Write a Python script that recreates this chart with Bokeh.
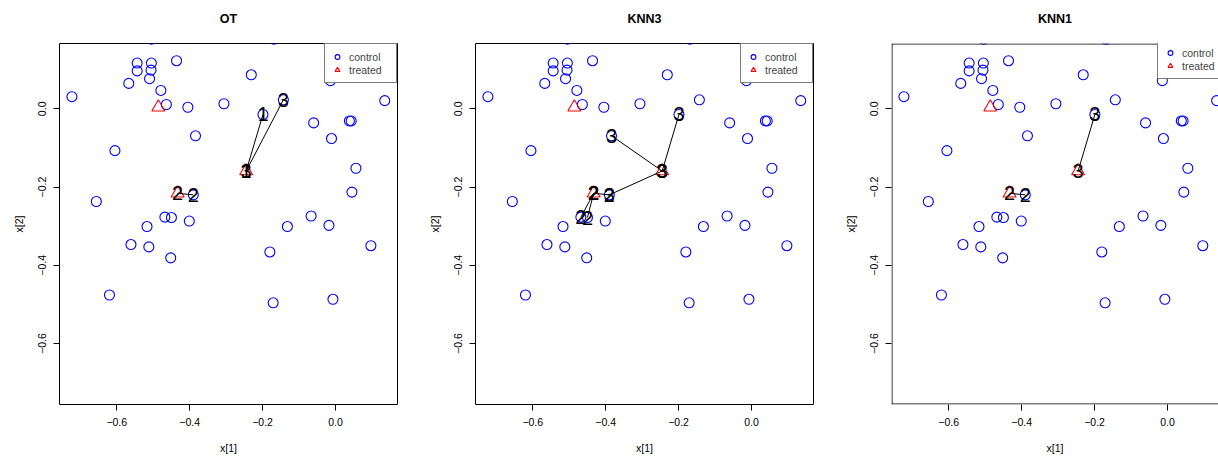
from bokeh.plotting import figure
from bokeh.layouts import row
from bokeh.models import Range1d, FixedTicker, Span, Legend, LegendItem, LinearAxis
from bokeh.embed import file_html
from bokeh.resources import INLINE
from bokeh.core.properties import value

# ---------------- data ----------------
control_x = [-0.505, -0.169, -0.544, -0.505, -0.544, -0.506, -0.436, -0.567, -0.510, -0.479,
             -0.723, -0.464, -0.405, -0.306, -0.231, -0.199, -0.143, -0.014, 0.135, -0.060,
             0.038, 0.043, -0.011, -0.384, -0.605, 0.056, 0.045, -0.656, -0.390, -0.468,
             -0.450, -0.401, -0.517, -0.132, -0.067, -0.018, -0.561, -0.512, -0.452, -0.180,
             0.097, -0.620, -0.171, -0.007]
control_y = [0.178, 0.178, 0.117, 0.117, 0.097, 0.099, 0.123, 0.065, 0.077, 0.047,
             0.031, 0.011, 0.004, 0.013, 0.087, -0.0145, 0.023, 0.072, 0.021, -0.036,
             -0.031, -0.031, -0.076, -0.069, -0.107, -0.152, -0.213, -0.237, -0.220, -0.277,
             -0.278, -0.287, -0.301, -0.301, -0.274, -0.298, -0.347, -0.353, -0.381, -0.366,
             -0.350, -0.476, -0.496, -0.487]
treated_x = [-0.486, -0.433, -0.245]
treated_y = [0.004, -0.216, -0.159]

# matches: treated index (1-based), control index (1-based), label
ot_treated = [3, 2, 3]
ot_control = [16, 29, 17]
ot_labels = ["1", "2", "3"]
knn3_treated = [2, 2, 2, 3, 3, 3]
knn3_control = [29, 30, 31, 16, 24, 29]
knn3_labels = ["2", "2", "2", "3", "3", "3"]
knn1_treated = [2, 3]
knn1_control = [29, 16]
knn1_labels = ["2", "3"]

titles = ["OT", "KNN3", "KNN1"]
tick_values = [-0.6, -0.4, -0.2, 0.0]
tick_labels = ["\u22120.6", "\u22120.4", "\u22120.2", "0.0"]
legend_labels = ["control", "treated"]
x_label = "x[1]"
y_label = "x[2]"

X0, X1 = -0.757, 0.170
Y0, Y1 = -0.756, 0.167
XS, YS = 364.5, 393.3   # pixels per data unit
FONT = "Liberation Sans"


def make_panel(title, t_idx, c_idx, labels, width, left_border, right_border, x_end,
               legend_loc, full_box, title_bounds):
    p = figure(width=width, height=456, output_backend="svg", toolbar_location=None,
               x_range=Range1d(X0, x_end), y_range=Range1d(Y0, Y1),
               min_border_left=left_border, min_border_right=right_border,
               min_border_top=43, min_border_bottom=50)
    p.grid.visible = False
    p.background_fill_color = "white"
    p.border_fill_color = "white"
    if full_box:
        p.outline_line_color = "black"
        p.outline_line_width = 1
        p.outline_line_alpha = 1
    else:
        p.outline_line_color = None
        p.add_layout(Span(location=Y0 + 0.5 / YS, dimension="width",
                          line_color="black", line_width=1))
        p.add_layout(Span(location=Y1 - 0.5 / YS, dimension="width",
                          line_color="black", line_width=1))
        p.add_layout(Span(location=X0 + 0.5 / XS, dimension="height",
                          line_color="black", line_width=1))

    for ax in (p.xaxis[0], p.yaxis[0]):
        ax.ticker = FixedTicker(ticks=tick_values)
        ax.major_label_overrides = dict(zip(tick_values, tick_labels))
        ax.axis_line_color = None
        ax.minor_tick_line_color = None
        ax.major_tick_out = 6
        ax.major_tick_in = 0
        ax.major_tick_line_color = "black"
        ax.major_label_text_font = FONT
        ax.major_label_text_font_size = "10.5px"
        ax.major_label_text_color = "black"
        ax.major_label_standoff = 7
        ax.axis_label_text_font = FONT
        ax.axis_label_text_font_size = "10.5px"
        ax.axis_label_text_font_style = "normal"
        ax.axis_label_text_color = "black"
    p.xaxis.axis_label = x_label
    p.yaxis.axis_label = y_label
    p.xaxis.axis_label_standoff = 13
    p.yaxis.axis_label_standoff = 11
    p.yaxis.major_label_orientation = "vertical"

    # panel title, drawn as the label of a bare axis above the frame
    top = LinearAxis(ticker=FixedTicker(ticks=[]), axis_label=title,
                     axis_line_color=None, major_tick_line_color=None,
                     minor_tick_line_color=None, major_tick_out=0, major_tick_in=0,
                     major_label_standoff=0, major_label_text_font_size="0px",
                     axis_label_standoff=18, axis_label_text_font=FONT,
                     axis_label_text_font_style="bold", axis_label_text_font_size="12.5px",
                     axis_label_text_color="black")
    if title_bounds is not None:
        top.bounds = title_bounds
    p.add_layout(top, "above")

    c = p.scatter(control_x, control_y, marker="circle", size=10, fill_color=None,
                  line_color="#0000FF", line_width=1.1)
    t = p.scatter(treated_x, treated_y, marker="triangle", size=13, fill_color=None,
                  line_color="#FF0000", line_width=1.1)

    tx = [treated_x[i - 1] for i in t_idx]
    ty = [treated_y[i - 1] for i in t_idx]
    cx = [control_x[j - 1] for j in c_idx]
    cy = [control_y[j - 1] for j in c_idx]
    p.segment(tx, ty, cx, cy, line_color="black", line_width=1)
    p.text(tx + cx, ty + cy, text=labels + labels, text_align="center", text_baseline="middle",
           text_font=value(FONT), text_font_size="20px", text_color="black")

    legend = Legend(items=[LegendItem(label=legend_labels[0], renderers=[c]),
                           LegendItem(label=legend_labels[1], renderers=[t])])
    legend.location = legend_loc
    legend.margin = 0
    legend.padding = 6
    legend.spacing = 0
    legend.glyph_width = 12
    legend.glyph_height = 13
    legend.label_height = 13
    legend.label_width = 41
    legend.label_standoff = 6
    legend.label_text_font = FONT
    legend.label_text_font_size = "10.5px"
    legend.border_line_color = "black"
    legend.border_line_width = 1
    legend.background_fill_color = "white"
    legend.background_fill_alpha = 1
    p.add_layout(legend)
    return p


p1 = make_panel(titles[0], ot_treated, ot_control, ot_labels, 424, 59, 27, X1, "top_right",
                True, None)
p2 = make_panel(titles[1], knn3_treated, knn3_control, knn3_labels, 416, 51, 27, X1,
                "top_right", True, None)
p3_xend = X0 + 327 / XS
p3 = make_panel(titles[2], knn1_treated, knn1_control, knn1_labels, 378, 51, 0, p3_xend,
                (266, 325), False, (X0 + 11 / XS, p3_xend))

layout = row(p1, p2, p3)
open("out.html", "w").write(file_html(layout, INLINE))
